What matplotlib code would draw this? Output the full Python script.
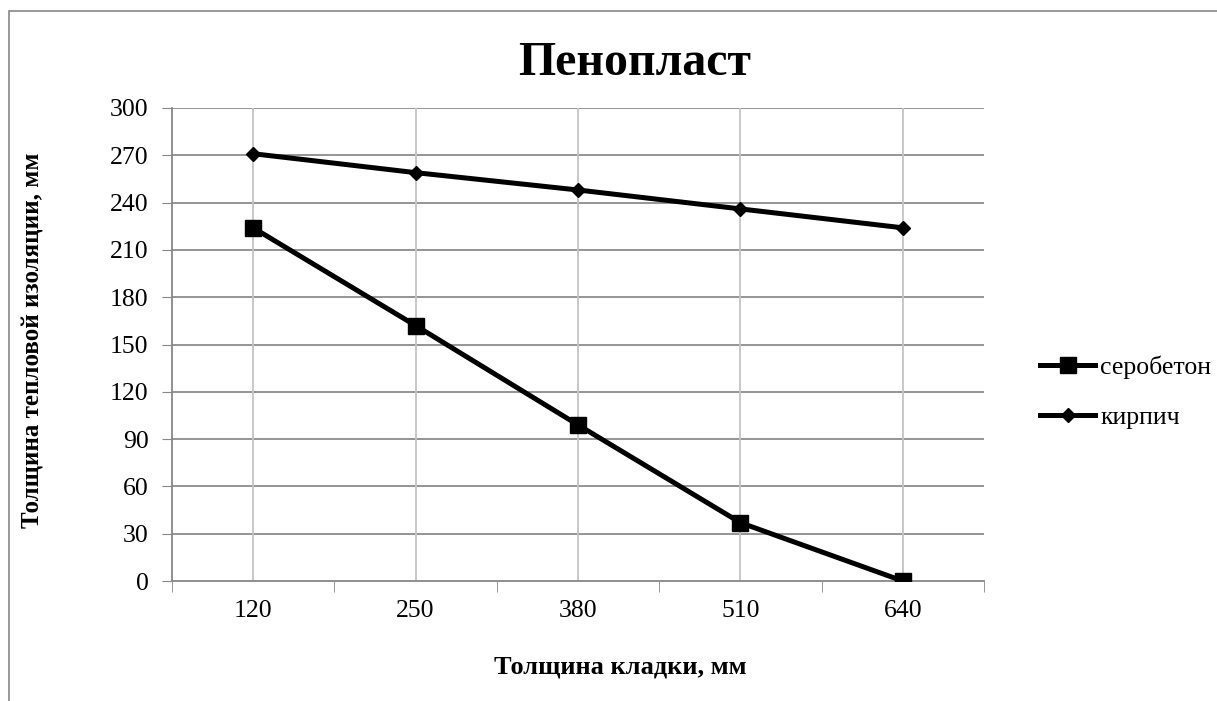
import matplotlib
matplotlib.use("Agg")
import matplotlib.pyplot as plt
from matplotlib.patches import Rectangle

# ---- данные ----
categories = ["120", "250", "380", "510", "640"]
serobeton = [224, 162, 99, 37, 0]
kirpich = [271, 259, 248, 236, 224]
y_ticks = list(range(0, 301, 30))

plt.rcParams['font.family'] = ['Liberation Serif', 'DejaVu Serif']

W, H = 1217, 701
fig = plt.figure(figsize=(W / 100, H / 100), dpi=100)

# рамка области диаграммы
fig.patches.append(Rectangle((9 / W, -0.1), 1.2, 1 - 11 / H + 0.1,
                             transform=fig.transFigure, fill=False,
                             edgecolor="#878787", linewidth=1.2))

ax = fig.add_axes([172 / W, (H - 581) / H, 812 / W, 473 / H])
x = list(range(len(categories)))

l1, = ax.plot(x, serobeton, color="black", linewidth=3.6, marker="s",
              markersize=11, label="серобетон", zorder=3)
l2, = ax.plot(x, kirpich, color="black", linewidth=3.6, marker="D",
              markersize=7.5, label="кирпич", zorder=3)

ax.set_xlim(-0.5, len(categories) - 0.5)
ax.set_ylim(0, 300)
ax.set_yticks(y_ticks)
ax.set_xticks(x)
ax.set_xticklabels(categories)
ax.set_xticks([i - 0.5 for i in range(len(categories) + 1)], minor=True)

ax.tick_params(axis="x", which="major", length=0, pad=14, labelsize=18.5)
ax.tick_params(axis="x", which="minor", length=8, color="#878787", direction="out")
ax.tick_params(axis="y", length=7, color="#878787", labelsize=18.5, pad=10)

for yv in y_ticks[1:]:
    ax.axhline(yv, color="#8c8c8c", linewidth=1.3, zorder=1)
for xv in x:
    ax.axvline(xv, color="#c4c4c4", linewidth=1.3, zorder=1)

for s in ["top", "right"]:
    ax.spines[s].set_visible(False)
for s in ["left", "bottom"]:
    ax.spines[s].set_color("#878787")
    ax.spines[s].set_linewidth(1.3)

fig.text(635 / W, 1 - 75 / H, "Пенопласт", ha="center", va="baseline",
         fontsize=34.5, fontweight="bold")
fig.text(620 / W, 1 - 673 / H, "Толщина кладки, мм", ha="center", va="baseline",
         fontsize=19, fontweight="bold")
fig.text(33 / W, 1 - 340 / H, "Толщина тепловой изоляции, мм", ha="center",
         va="center", rotation=90, fontsize=18, fontweight="bold")

fig.legend(handles=[l1, l2], loc="center left",
           bbox_to_anchor=(1040 / W, 1 - 392.5 / H), frameon=False,
           fontsize=18.5, handlelength=2.15, handletextpad=0.2,
           labelspacing=1.05, borderpad=0, borderaxespad=0)

fig.savefig("out.png", dpi=100)
